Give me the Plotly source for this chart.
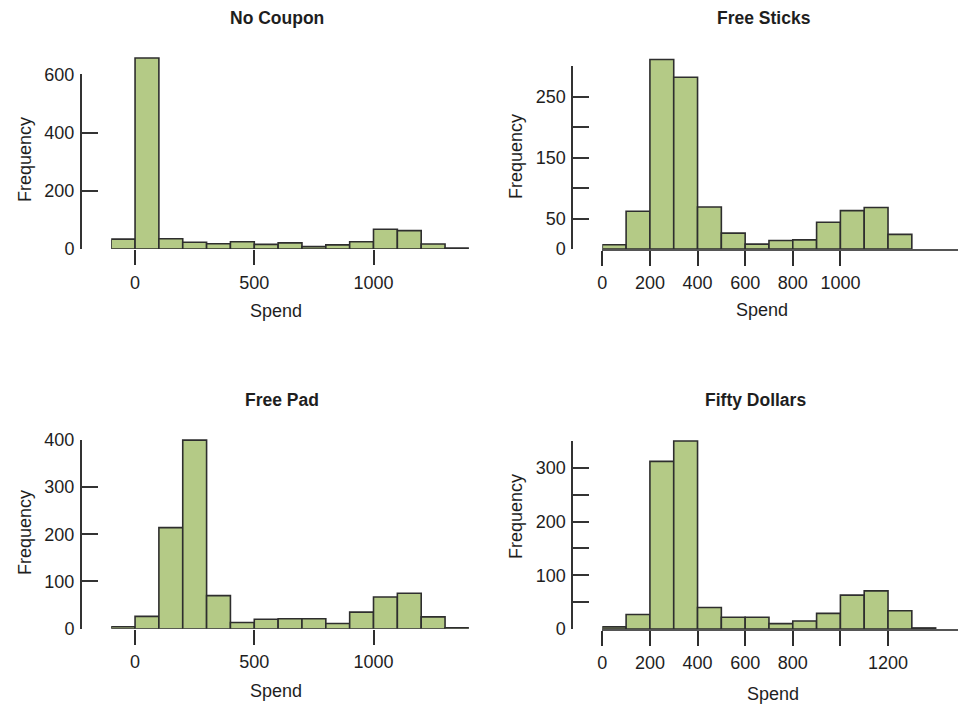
import plotly.graph_objects as go

W, H = 958, 706

# ---- data (bin width 100) ----
no_coupon_start = -100
no_coupon = [34, 656, 35, 23, 18, 25, 16, 21, 8, 14, 25, 68, 63, 17, 3]
free_sticks_start = 0
free_sticks = [7, 62, 311, 282, 69, 26, 8, 14, 15, 44, 63, 68, 24]
free_pad_start = -100
free_pad = [4, 26, 214, 399, 70, 13, 20, 21, 21, 11, 35, 67, 75, 25, 2]
fifty_start = 0
fifty_dollars = [4, 27, 312, 350, 40, 22, 22, 10, 15, 29, 63, 71, 34, 2]
bin_width = 100

titles = ["No Coupon", "Free Sticks", "Free Pad", "Fifty Dollars"]
x_tickvals = [[0, 500, 1000], [0, 200, 400, 600, 800, 1000],
              [0, 500, 1000], [0, 200, 400, 600, 800, 1000, 1200]]
x_ticktext = [["0", "500", "1000"], ["0", "200", "400", "600", "800", "1000"],
              ["0", "500", "1000"], ["0", "200", "400", "600", "800", "", "1200"]]
y_tickvals = [[0, 200, 400, 600], [0, 50, 100, 150, 200, 250, 300],
              [0, 100, 200, 300, 400], [0, 50, 100, 150, 200, 250, 300, 350]]
y_ticktext = [["0", "200", "400", "600"], ["0", "50", "", "150", "", "250", ""],
              ["0", "100", "200", "300", "400"], ["0", "", "100", "", "200", "", "300", ""]]

FILL = "#b4ca86"
EDGE = "#2e2e2e"
FONT = "Liberation Sans, Arial, sans-serif"
TXT = "#1e1e1e"
FS = 18

def px_x(p):
    return p / W

def px_y(p):
    return 1 - p / H

panels = [
    dict(x0=111.2, x1=468.9, xr=[-100, 1400], axx=81, y0=249.0, ytop=40, sc=0.2911, ymax=600, baseline=False),
    dict(x0=602.3, x1=W, xr=[0, (W - 602.3) / 0.2381], axx=572.3, y0=249.0, ytop=40, sc=0.6093, ymax=300, baseline=True),
    dict(x0=111.2, x1=468.9, xr=[-100, 1400], axx=81, y0=628.7, ytop=420, sc=0.4725, ymax=400, baseline=False),
    dict(x0=602.3, x1=W, xr=[0, (W - 602.3) / 0.2381], axx=572.3, y0=629.0, ytop=420, sc=0.5371, ymax=350, baseline=True),
]

series = [(no_coupon_start, no_coupon), (free_sticks_start, free_sticks),
          (free_pad_start, free_pad), (fifty_start, fifty_dollars)]

fig = go.Figure()
layout = dict(template="none", width=W, height=H, margin=dict(l=0, r=0, t=0, b=0, autoexpand=False),
              paper_bgcolor="white", plot_bgcolor="rgba(0,0,0,0)",
              showlegend=False, font=dict(family=FONT, size=FS, color=TXT))

for i, (p, (start, counts)) in enumerate(zip(panels, series)):
    n = i + 1
    sfx = "" if n == 1 else str(n)
    centers = [start + bin_width * k + bin_width / 2 for k in range(len(counts))]
    fig.add_trace(go.Bar(x=centers, y=counts, width=[bin_width] * len(counts),
                         marker=dict(color=FILL, line=dict(color=EDGE, width=1.6)),
                         xaxis="x" + sfx, yaxis="y" + sfx, hoverinfo="x+y"))
    fig.add_trace(go.Scatter(x=[None], y=[None], xaxis="x" + sfx, yaxis="y" + str(n + 4),
                             mode="markers", hoverinfo="skip", showlegend=False))
    layout["xaxis" + sfx] = dict(
        domain=[px_x(p["x0"]), min(1, px_x(p["x1"]))], range=p["xr"], anchor="y" + sfx,
        showgrid=False, zeroline=False, automargin=False,
        showline=p["baseline"], linecolor="#555555", linewidth=1.5,
        ticks="outside", ticklen=15, tickwidth=1.5, tickcolor=EDGE,
        tickvals=x_tickvals[i], ticktext=x_ticktext[i], ticklabelstandoff=2,
        tickfont=dict(size=FS, color=TXT), fixedrange=True)
    ymain_top = (p["y0"] - p["ytop"]) / p["sc"]
    layout["yaxis" + sfx] = dict(
        domain=[px_y(p["y0"]), px_y(p["ytop"])], range=[0, ymain_top], anchor="x" + sfx,
        visible=False, automargin=False, fixedrange=True)
    ytop_px = p["y0"] - p["ymax"] * p["sc"]
    layout["yaxis" + str(n + 4)] = dict(
        domain=[px_y(p["y0"]), px_y(ytop_px)], range=[0, p["ymax"]], anchor="free",
        position=px_x(p["axx"]), showgrid=False, zeroline=False, automargin=False,
        showline=True, linecolor="#333333", linewidth=2,
        ticks="inside", ticklen=16, tickwidth=1.5, tickcolor="#333333",
        tickvals=y_tickvals[i], ticktext=y_ticktext[i], ticklabelstandoff=2,
        tickfont=dict(size=FS, color=TXT), fixedrange=True)

fig.update_layout(**layout)

title_pos = [(276.5, 18), (764, 18), (282, 400), (755, 400)]
spend_pos = [(276, 311), (762, 310), (276, 691), (773, 694)]
freq_pos = [(25, 160), (516, 157), (25, 533), (516, 517)]
for i in range(4):
    tx, ty = title_pos[i]
    fig.add_annotation(text="<b>" + titles[i] + "</b>", x=px_x(tx), y=px_y(ty), xref="paper", yref="paper",
                       xanchor="center", yanchor="middle", showarrow=False, font=dict(size=17.5, color=TXT))
    sx, sy = spend_pos[i]
    fig.add_annotation(text="Spend", x=px_x(sx), y=px_y(sy), xref="paper", yref="paper",
                       xanchor="center", yanchor="middle", showarrow=False, font=dict(size=FS, color=TXT))
    fx, fy = freq_pos[i]
    fig.add_annotation(text="Frequency", x=px_x(fx), y=px_y(fy), xref="paper", yref="paper",
                       xanchor="center", yanchor="middle", showarrow=False, textangle=-90,
                       font=dict(size=FS, color=TXT))

fig.write_html("out.html")
